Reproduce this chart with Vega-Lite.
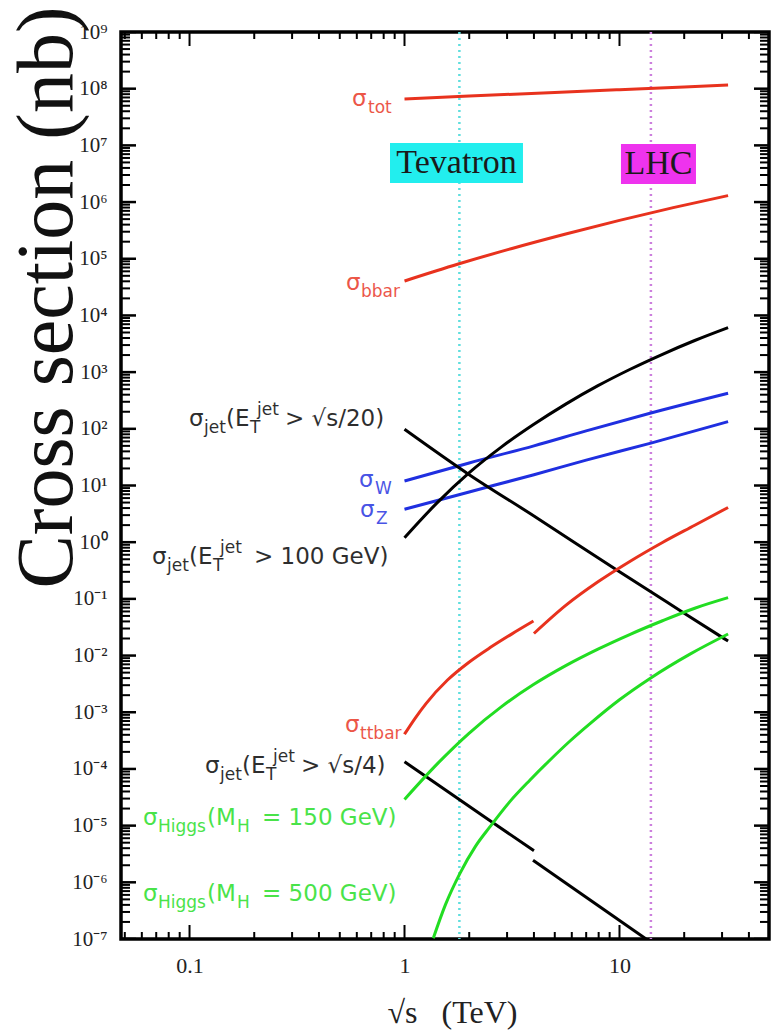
{
  "$schema": "https://vega.github.io/schema/vega-lite/v6.json",
  "autosize": {"type": "none"},
  "padding": {"left": 121, "top": 32, "right": 4, "bottom": 91},
  "width": 648,
  "height": 907,
  "background": "white",
  "config": {
    "view": {"stroke": "black", "strokeWidth": 3.5},
    "axis": {"labelFont": "Liberation Serif", "labelColor": "#222", "labelOverlap": false, "labelFlush": false, "labelBound": false,
      "ticks": false, "domain": false, "grid": false, "titleFont": "Liberation Serif", "titleFontWeight": "normal", "titleAlign": "center", "titleBaseline": "alphabetic"},
    "axisX": {"labelFontSize": 22, "labelPadding": 16, "titleFontSize": 32, "titleColor": "#222"},
    "axisY": {"labelFontSize": 21, "labelPadding": 14, "titleFontSize": 80, "titleColor": "#111", "titleAngle": 270}
  },
  "datasets": {
    "rules": [
      {"name": "Tevatron", "x": 1.8},
      {"name": "LHC", "x": 14}
    ],
    "boxes": [
      {"name": "Tevatron", "x": 0.8561, "x2": 3.557, "y": 1.1014e7, "y2": 2.169e6, "cx": 1.746, "cy": 4.888e6},
      {"name": "LHC", "x": 10.16, "x2": 22.69, "y": 1.0576e7, "y2": 2.0832e6, "cx": 15.19, "cy": 4.694e6}
    ],
    "xt": [
      {"v": 0.1, "k": "major"}, {"v": 1, "k": "major"}, {"v": 10, "k": "major"},
      {"v": 0.05, "k": "minor"}, {"v": 0.06, "k": "minor"}, {"v": 0.07, "k": "minor"}, {"v": 0.08, "k": "minor"}, {"v": 0.09, "k": "minor"},
      {"v": 0.2, "k": "minor"}, {"v": 0.3, "k": "minor"}, {"v": 0.4, "k": "minor"}, {"v": 0.5, "k": "minor"}, {"v": 0.6, "k": "minor"}, {"v": 0.7, "k": "minor"}, {"v": 0.8, "k": "minor"}, {"v": 0.9, "k": "minor"},
      {"v": 2, "k": "minor"}, {"v": 3, "k": "minor"}, {"v": 4, "k": "minor"}, {"v": 5, "k": "minor"}, {"v": 6, "k": "minor"}, {"v": 7, "k": "minor"}, {"v": 8, "k": "minor"}, {"v": 9, "k": "minor"},
      {"v": 20, "k": "minor"}, {"v": 30, "k": "minor"}, {"v": 40, "k": "minor"}
    ],
    "yt": [
      {"v": 1e-7, "k": "major"}, {"v": 1e-6, "k": "major"}, {"v": 1e-5, "k": "major"}, {"v": 1e-4, "k": "major"}, {"v": 1e-3, "k": "major"}, {"v": 1e-2, "k": "major"}, {"v": 0.1, "k": "major"}, {"v": 1, "k": "major"}, {"v": 10, "k": "major"}, {"v": 100, "k": "major"}, {"v": 1e3, "k": "major"}, {"v": 1e4, "k": "major"}, {"v": 1e5, "k": "major"}, {"v": 1e6, "k": "major"}, {"v": 1e7, "k": "major"}, {"v": 1e8, "k": "major"}, {"v": 1e9, "k": "major"},
      {"v": 2e-7, "k": "minor"}, {"v": 3e-7, "k": "minor"}, {"v": 4e-7, "k": "minor"}, {"v": 5e-7, "k": "minor"}, {"v": 6e-7, "k": "minor"}, {"v": 7e-7, "k": "minor"}, {"v": 8e-7, "k": "minor"}, {"v": 9e-7, "k": "minor"},
      {"v": 2e-6, "k": "minor"}, {"v": 3e-6, "k": "minor"}, {"v": 4e-6, "k": "minor"}, {"v": 5e-6, "k": "minor"}, {"v": 6e-6, "k": "minor"}, {"v": 7e-6, "k": "minor"}, {"v": 8e-6, "k": "minor"}, {"v": 9e-6, "k": "minor"},
      {"v": 2e-5, "k": "minor"}, {"v": 3e-5, "k": "minor"}, {"v": 4e-5, "k": "minor"}, {"v": 5e-5, "k": "minor"}, {"v": 6e-5, "k": "minor"}, {"v": 7e-5, "k": "minor"}, {"v": 8e-5, "k": "minor"}, {"v": 9e-5, "k": "minor"},
      {"v": 2e-4, "k": "minor"}, {"v": 3e-4, "k": "minor"}, {"v": 4e-4, "k": "minor"}, {"v": 5e-4, "k": "minor"}, {"v": 6e-4, "k": "minor"}, {"v": 7e-4, "k": "minor"}, {"v": 8e-4, "k": "minor"}, {"v": 9e-4, "k": "minor"},
      {"v": 2e-3, "k": "minor"}, {"v": 3e-3, "k": "minor"}, {"v": 4e-3, "k": "minor"}, {"v": 5e-3, "k": "minor"}, {"v": 6e-3, "k": "minor"}, {"v": 7e-3, "k": "minor"}, {"v": 8e-3, "k": "minor"}, {"v": 9e-3, "k": "minor"},
      {"v": 0.02, "k": "minor"}, {"v": 0.03, "k": "minor"}, {"v": 0.04, "k": "minor"}, {"v": 0.05, "k": "minor"}, {"v": 0.06, "k": "minor"}, {"v": 0.07, "k": "minor"}, {"v": 0.08, "k": "minor"}, {"v": 0.09, "k": "minor"},
      {"v": 0.2, "k": "minor"}, {"v": 0.3, "k": "minor"}, {"v": 0.4, "k": "minor"}, {"v": 0.5, "k": "minor"}, {"v": 0.6, "k": "minor"}, {"v": 0.7, "k": "minor"}, {"v": 0.8, "k": "minor"}, {"v": 0.9, "k": "minor"},
      {"v": 2, "k": "minor"}, {"v": 3, "k": "minor"}, {"v": 4, "k": "minor"}, {"v": 5, "k": "minor"}, {"v": 6, "k": "minor"}, {"v": 7, "k": "minor"}, {"v": 8, "k": "minor"}, {"v": 9, "k": "minor"},
      {"v": 20, "k": "minor"}, {"v": 30, "k": "minor"}, {"v": 40, "k": "minor"}, {"v": 50, "k": "minor"}, {"v": 60, "k": "minor"}, {"v": 70, "k": "minor"}, {"v": 80, "k": "minor"}, {"v": 90, "k": "minor"},
      {"v": 200, "k": "minor"}, {"v": 300, "k": "minor"}, {"v": 400, "k": "minor"}, {"v": 500, "k": "minor"}, {"v": 600, "k": "minor"}, {"v": 700, "k": "minor"}, {"v": 800, "k": "minor"}, {"v": 900, "k": "minor"},
      {"v": 2e3, "k": "minor"}, {"v": 3e3, "k": "minor"}, {"v": 4e3, "k": "minor"}, {"v": 5e3, "k": "minor"}, {"v": 6e3, "k": "minor"}, {"v": 7e3, "k": "minor"}, {"v": 8e3, "k": "minor"}, {"v": 9e3, "k": "minor"},
      {"v": 2e4, "k": "minor"}, {"v": 3e4, "k": "minor"}, {"v": 4e4, "k": "minor"}, {"v": 5e4, "k": "minor"}, {"v": 6e4, "k": "minor"}, {"v": 7e4, "k": "minor"}, {"v": 8e4, "k": "minor"}, {"v": 9e4, "k": "minor"},
      {"v": 2e5, "k": "minor"}, {"v": 3e5, "k": "minor"}, {"v": 4e5, "k": "minor"}, {"v": 5e5, "k": "minor"}, {"v": 6e5, "k": "minor"}, {"v": 7e5, "k": "minor"}, {"v": 8e5, "k": "minor"}, {"v": 9e5, "k": "minor"},
      {"v": 2e6, "k": "minor"}, {"v": 3e6, "k": "minor"}, {"v": 4e6, "k": "minor"}, {"v": 5e6, "k": "minor"}, {"v": 6e6, "k": "minor"}, {"v": 7e6, "k": "minor"}, {"v": 8e6, "k": "minor"}, {"v": 9e6, "k": "minor"},
      {"v": 2e7, "k": "minor"}, {"v": 3e7, "k": "minor"}, {"v": 4e7, "k": "minor"}, {"v": 5e7, "k": "minor"}, {"v": 6e7, "k": "minor"}, {"v": 7e7, "k": "minor"}, {"v": 8e7, "k": "minor"}, {"v": 9e7, "k": "minor"},
      {"v": 2e8, "k": "minor"}, {"v": 3e8, "k": "minor"}, {"v": 4e8, "k": "minor"}, {"v": 5e8, "k": "minor"}, {"v": 6e8, "k": "minor"}, {"v": 7e8, "k": "minor"}, {"v": 8e8, "k": "minor"}, {"v": 9e8, "k": "minor"}
    ],
    "curves": [
      {"series": "tot", "seg": "tot", "x": 1, "y": 6.6e7},
      {"series": "tot", "seg": "tot", "x": 2, "y": 7.4e7},
      {"series": "tot", "seg": "tot", "x": 5, "y": 8.6e7},
      {"series": "tot", "seg": "tot", "x": 10, "y": 9.6e7},
      {"series": "tot", "seg": "tot", "x": 20, "y": 1.07e8},
      {"series": "tot", "seg": "tot", "x": 32, "y": 1.16e8},
      {"series": "bbar", "seg": "bbar", "x": 1, "y": 4.05e4},
      {"series": "bbar", "seg": "bbar", "x": 1.778, "y": 8.07e4},
      {"series": "bbar", "seg": "bbar", "x": 3.162, "y": 1.52e5},
      {"series": "bbar", "seg": "bbar", "x": 5.623, "y": 2.735e5},
      {"series": "bbar", "seg": "bbar", "x": 10, "y": 4.75e5},
      {"series": "bbar", "seg": "bbar", "x": 17.78, "y": 7.98e5},
      {"series": "bbar", "seg": "bbar", "x": 32, "y": 1.30e6},
      {"series": "W", "seg": "W", "x": 1, "y": 12},
      {"series": "W", "seg": "W", "x": 2, "y": 25},
      {"series": "W", "seg": "W", "x": 4, "y": 50},
      {"series": "W", "seg": "W", "x": 7, "y": 92},
      {"series": "W", "seg": "W", "x": 14, "y": 190},
      {"series": "W", "seg": "W", "x": 32, "y": 424},
      {"series": "Z", "seg": "Z", "x": 1, "y": 3.8},
      {"series": "Z", "seg": "Z", "x": 2, "y": 7.7},
      {"series": "Z", "seg": "Z", "x": 4, "y": 15.5},
      {"series": "Z", "seg": "Z", "x": 7, "y": 28},
      {"series": "Z", "seg": "Z", "x": 14, "y": 56},
      {"series": "Z", "seg": "Z", "x": 32, "y": 134},
      {"series": "jet20", "seg": "jet20", "x": 1, "y": 98},
      {"series": "jet20", "seg": "jet20", "x": 2, "y": 15.5},
      {"series": "jet20", "seg": "jet20", "x": 4, "y": 2.9},
      {"series": "jet20", "seg": "jet20", "x": 10, "y": 0.30},
      {"series": "jet20", "seg": "jet20", "x": 20, "y": 0.056},
      {"series": "jet20", "seg": "jet20", "x": 32, "y": 0.018},
      {"series": "jet100", "seg": "jet100", "x": 1, "y": 1.2},
      {"series": "jet100", "seg": "jet100", "x": 1.413, "y": 4.89},
      {"series": "jet100", "seg": "jet100", "x": 1.995, "y": 16.7},
      {"series": "jet100", "seg": "jet100", "x": 2.818, "y": 47.6},
      {"series": "jet100", "seg": "jet100", "x": 3.981, "y": 118.9},
      {"series": "jet100", "seg": "jet100", "x": 5.623, "y": 272.9},
      {"series": "jet100", "seg": "jet100", "x": 7.943, "y": 576.8},
      {"series": "jet100", "seg": "jet100", "x": 11.22, "y": 1125},
      {"series": "jet100", "seg": "jet100", "x": 15.85, "y": 2065},
      {"series": "jet100", "seg": "jet100", "x": 22.39, "y": 3614},
      {"series": "jet100", "seg": "jet100", "x": 32, "y": 6100},
      {"series": "jet4", "seg": "jet4a", "x": 1, "y": 1.34e-4},
      {"series": "jet4", "seg": "jet4a", "x": 2.6, "y": 1.1e-5},
      {"series": "jet4", "seg": "jet4a", "x": 4, "y": 3.6e-6},
      {"series": "jet4", "seg": "jet4b", "x": 3.96, "y": 2.45e-6},
      {"series": "jet4", "seg": "jet4b", "x": 13.3, "y": 1e-7},
      {"series": "ttbar", "seg": "ttbar1", "x": 1, "y": 4.1e-4},
      {"series": "ttbar", "seg": "ttbar1", "x": 1.122, "y": 7.9e-4},
      {"series": "ttbar", "seg": "ttbar1", "x": 1.259, "y": 1.42e-3},
      {"series": "ttbar", "seg": "ttbar1", "x": 1.585, "y": 3.70e-3},
      {"series": "ttbar", "seg": "ttbar1", "x": 1.995, "y": 7.64e-3},
      {"series": "ttbar", "seg": "ttbar1", "x": 2.512, "y": 0.01396},
      {"series": "ttbar", "seg": "ttbar1", "x": 3.162, "y": 0.02415},
      {"series": "ttbar", "seg": "ttbar1", "x": 3.98, "y": 0.0406},
      {"series": "ttbar", "seg": "ttbar2", "x": 4, "y": 0.0245},
      {"series": "ttbar", "seg": "ttbar2", "x": 5.623, "y": 0.0767},
      {"series": "ttbar", "seg": "ttbar2", "x": 7.943, "y": 0.2},
      {"series": "ttbar", "seg": "ttbar2", "x": 11.22, "y": 0.462},
      {"series": "ttbar", "seg": "ttbar2", "x": 15.85, "y": 0.989},
      {"series": "ttbar", "seg": "ttbar2", "x": 22.39, "y": 1.99},
      {"series": "ttbar", "seg": "ttbar2", "x": 32, "y": 4.1},
      {"series": "h150", "seg": "h150", "x": 1, "y": 2.9e-5},
      {"series": "h150", "seg": "h150", "x": 1.413, "y": 1.205e-4},
      {"series": "h150", "seg": "h150", "x": 1.995, "y": 4.256e-4},
      {"series": "h150", "seg": "h150", "x": 2.818, "y": 1.242e-3},
      {"series": "h150", "seg": "h150", "x": 3.981, "y": 3.076e-3},
      {"series": "h150", "seg": "h150", "x": 5.623, "y": 6.637e-3},
      {"series": "h150", "seg": "h150", "x": 7.943, "y": 0.01297},
      {"series": "h150", "seg": "h150", "x": 11.22, "y": 0.02371},
      {"series": "h150", "seg": "h150", "x": 15.85, "y": 0.04111},
      {"series": "h150", "seg": "h150", "x": 22.39, "y": 0.06839},
      {"series": "h150", "seg": "h150", "x": 32, "y": 0.105},
      {"series": "h500", "seg": "h500", "x": 1.361, "y": 1.03e-7},
      {"series": "h500", "seg": "h500", "x": 1.549, "y": 3.99e-7},
      {"series": "h500", "seg": "h500", "x": 1.811, "y": 1.44e-6},
      {"series": "h500", "seg": "h500", "x": 2.138, "y": 4.31e-6},
      {"series": "h500", "seg": "h500", "x": 2.5, "y": 9.59e-6},
      {"series": "h500", "seg": "h500", "x": 3.09, "y": 2.65e-5},
      {"series": "h500", "seg": "h500", "x": 3.837, "y": 6.38e-5},
      {"series": "h500", "seg": "h500", "x": 4.753, "y": 1.44e-4},
      {"series": "h500", "seg": "h500", "x": 5.888, "y": 3.11e-4},
      {"series": "h500", "seg": "h500", "x": 7.295, "y": 6.3e-4},
      {"series": "h500", "seg": "h500", "x": 10, "y": 1.66e-3},
      {"series": "h500", "seg": "h500", "x": 13.87, "y": 3.95e-3},
      {"series": "h500", "seg": "h500", "x": 21.28, "y": 0.0106},
      {"series": "h500", "seg": "h500", "x": 32, "y": 0.024}
    ],
    "labels": [
      {"series": "tot", "role": "main", "text": "σ", "x": 0.5698, "y": 4.95e7},
      {"series": "tot", "role": "sub", "text": "tot", "x": 0.6764, "y": 4.95e7},
      {"series": "bbar", "role": "main", "text": "σ", "x": 0.5344, "y": 2.81e4},
      {"series": "bbar", "role": "sub", "text": "bbar", "x": 0.6277, "y": 2.81e4},
      {"series": "W", "role": "main", "text": "σ", "x": 0.6144, "y": 9.41},
      {"series": "W", "role": "sub", "text": "W", "x": 0.7293, "y": 9.41},
      {"series": "Z", "role": "main", "text": "σ", "x": 0.6209, "y": 2.78},
      {"series": "Z", "role": "sub", "text": "Z", "x": 0.737, "y": 2.78},
      {"series": "ttbar", "role": "main", "text": "σ", "x": 0.5288, "y": 4.48e-4},
      {"series": "ttbar", "role": "sub", "text": "ttbar", "x": 0.6209, "y": 4.48e-4},
      {"series": "jet20", "role": "main", "text": "σ", "x": 0.09947, "y": 112.1},
      {"series": "jet20", "role": "sub", "text": "jet", "x": 0.1168, "y": 112.1},
      {"series": "jet20", "role": "main", "text": "(E", "x": 0.1479, "y": 112.1},
      {"series": "jet20", "role": "sub", "text": "T", "x": 0.1911, "y": 112.1},
      {"series": "jet20", "role": "sup", "text": "jet", "x": 0.2061, "y": 112.1},
      {"series": "jet20", "role": "main", "text": "> √s/20)", "x": 0.2781, "y": 112.1},
      {"series": "jet100", "role": "main", "text": "σ", "x": 0.06691, "y": 0.4123},
      {"series": "jet100", "role": "sub", "text": "jet", "x": 0.07858, "y": 0.4123},
      {"series": "jet100", "role": "main", "text": "(E", "x": 0.09947, "y": 0.4123},
      {"series": "jet100", "role": "sub", "text": "T", "x": 0.1286, "y": 0.4123},
      {"series": "jet100", "role": "sup", "text": "jet", "x": 0.1387, "y": 0.4123},
      {"series": "jet100", "role": "main", "text": "> 100 GeV)", "x": 0.1995, "y": 0.4123},
      {"series": "jet4", "role": "main", "text": "σ", "x": 0.1181, "y": 8.478e-5},
      {"series": "jet4", "role": "sub", "text": "jet", "x": 0.1387, "y": 8.478e-5},
      {"series": "jet4", "role": "main", "text": "(E", "x": 0.1755, "y": 8.478e-5},
      {"series": "jet4", "role": "sub", "text": "T", "x": 0.2269, "y": 8.478e-5},
      {"series": "jet4", "role": "sup", "text": "jet", "x": 0.2446, "y": 8.478e-5},
      {"series": "jet4", "role": "main", "text": "> √s/4)", "x": 0.33, "y": 8.478e-5},
      {"series": "h150", "role": "main", "text": "σ", "x": 0.06076, "y": 1.026e-5},
      {"series": "h150", "role": "sub", "text": "Higgs", "x": 0.07137, "y": 1.026e-5},
      {"series": "h150", "role": "main", "text": "(M", "x": 0.1206, "y": 1.026e-5},
      {"series": "h150", "role": "sub", "text": "H", "x": 0.1663, "y": 1.026e-5},
      {"series": "h150", "role": "main", "text": "= 150 GeV)", "x": 0.2174, "y": 1.026e-5},
      {"series": "h500", "role": "main", "text": "σ", "x": 0.06076, "y": 4.68e-7},
      {"series": "h500", "role": "sub", "text": "Higgs", "x": 0.07137, "y": 4.68e-7},
      {"series": "h500", "role": "main", "text": "(M", "x": 0.1206, "y": 4.68e-7},
      {"series": "h500", "role": "sub", "text": "H", "x": 0.1663, "y": 4.68e-7},
      {"series": "h500", "role": "main", "text": "= 500 GeV)", "x": 0.2174, "y": 4.68e-7}
    ]
  },
  "layer": [
    {
      "data": {"name": "rules"},
      "mark": {"type": "rule", "strokeDash": [2, 4], "strokeWidth": 2.5},
      "encoding": {
        "x": {"field": "x", "type": "quantitative", "scale": {"type": "log", "domain": [0.048, 49.6], "nice": false},
          "axis": {"values": [0.1, 1, 10], "labelExpr": "datum.value == 0.1 ? '0.1' : datum.value == 1 ? '1' : datum.value == 10 ? '10' : ''", "title": "√s\u00a0\u00a0\u00a0(TeV)", "titleX": 331, "titleY": 83}},
        "stroke": {"field": "name", "type": "nominal", "scale": {"domain": ["Tevatron", "LHC"], "range": ["#5fdede", "#cc7fdd"]}, "legend": null}
      }
    },
    {
      "data": {"name": "boxes"},
      "mark": {"type": "rect"},
      "encoding": {
        "x": {"field": "x", "type": "quantitative", "scale": {"type": "log", "domain": [0.048, 49.6], "nice": false},
          "axis": {"values": [0.1, 1, 10], "labelExpr": "datum.value == 0.1 ? '0.1' : datum.value == 1 ? '1' : datum.value == 10 ? '10' : ''", "title": "√s\u00a0\u00a0\u00a0(TeV)", "titleX": 331, "titleY": 83}},
        "x2": {"field": "x2"},
        "y": {"field": "y", "type": "quantitative", "scale": {"type": "log", "domain": [1e-7, 1e9], "nice": false},
          "axis": {"values": [1e-7,1e-6,1e-5,1e-4,0.001,0.01,0.1,1,10,100,1000,1e4,1e5,1e6,1e7,1e8,1e9], "labelExpr": "'10'+(datum.value<1?'⁻':'')+['⁰','¹','²','³','⁴','⁵','⁶','⁷','⁸','⁹'][abs(round(log(datum.value)/LN10))]", "title": "Cross section (nb)", "titleX": -50, "titleY": 265}},
        "y2": {"field": "y2"},
        "fill": {"field": "name", "type": "nominal", "scale": {"domain": ["Tevatron", "LHC"], "range": ["#22eeee", "#ee33ee"]}, "legend": null}
      }
    },
    {
      "data": {"name": "boxes"},
      "mark": {"type": "text", "font": "Liberation Serif", "fontSize": 34, "align": "center", "baseline": "middle", "color": "#1a1a1a"},
      "encoding": {
        "x": {"field": "cx", "type": "quantitative", "scale": {"type": "log", "domain": [0.048, 49.6], "nice": false},
          "axis": {"values": [0.1, 1, 10], "labelExpr": "datum.value == 0.1 ? '0.1' : datum.value == 1 ? '1' : datum.value == 10 ? '10' : ''", "title": "√s\u00a0\u00a0\u00a0(TeV)", "titleX": 331, "titleY": 83}},
        "y": {"field": "cy", "type": "quantitative", "scale": {"type": "log", "domain": [1e-7, 1e9], "nice": false},
          "axis": {"values": [1e-7,1e-6,1e-5,1e-4,0.001,0.01,0.1,1,10,100,1000,1e4,1e5,1e6,1e7,1e8,1e9], "labelExpr": "'10'+(datum.value<1?'⁻':'')+['⁰','¹','²','³','⁴','⁵','⁶','⁷','⁸','⁹'][abs(round(log(datum.value)/LN10))]", "title": "Cross section (nb)", "titleX": -50, "titleY": 265}},
        "text": {"field": "name"}
      }
    },
    {
      "data": {"name": "curves"},
      "mark": {"type": "line", "strokeWidth": 3, "clip": true, "interpolate": "monotone"},
      "encoding": {
        "x": {"field": "x", "type": "quantitative", "scale": {"type": "log", "domain": [0.048, 49.6], "nice": false},
          "axis": {"values": [0.1, 1, 10], "labelExpr": "datum.value == 0.1 ? '0.1' : datum.value == 1 ? '1' : datum.value == 10 ? '10' : ''", "title": "√s\u00a0\u00a0\u00a0(TeV)", "titleX": 331, "titleY": 83}},
        "y": {"field": "y", "type": "quantitative", "scale": {"type": "log", "domain": [1e-7, 1e9], "nice": false},
          "axis": {"values": [1e-7,1e-6,1e-5,1e-4,0.001,0.01,0.1,1,10,100,1000,1e4,1e5,1e6,1e7,1e8,1e9], "labelExpr": "'10'+(datum.value<1?'⁻':'')+['⁰','¹','²','³','⁴','⁵','⁶','⁷','⁸','⁹'][abs(round(log(datum.value)/LN10))]", "title": "Cross section (nb)", "titleX": -50, "titleY": 265}},
        "color": {"field": "series", "type": "nominal",
          "scale": {"domain": ["tot", "bbar", "ttbar", "W", "Z", "jet20", "jet100", "jet4", "h150", "h500"],
            "range": ["#e8321e", "#e8321e", "#e8321e", "#1f2fe0", "#1f2fe0", "#000000", "#000000", "#000000", "#22dd22", "#22dd22"]},
          "legend": null},
        "detail": {"field": "seg"}
      }
    },
    {
      "data": {"name": "labels"},
      "transform": [{"filter": "datum.role == 'main'"}],
      "mark": {"type": "text", "font": "DejaVu Sans", "fontSize": 23, "align": "left", "baseline": "alphabetic", "opacity": 0.82},
      "encoding": {
        "x": {"field": "x", "type": "quantitative", "scale": {"type": "log", "domain": [0.048, 49.6], "nice": false},
          "axis": {"values": [0.1, 1, 10], "labelExpr": "datum.value == 0.1 ? '0.1' : datum.value == 1 ? '1' : datum.value == 10 ? '10' : ''", "title": "√s\u00a0\u00a0\u00a0(TeV)", "titleX": 331, "titleY": 83}},
        "y": {"field": "y", "type": "quantitative", "scale": {"type": "log", "domain": [1e-7, 1e9], "nice": false},
          "axis": {"values": [1e-7,1e-6,1e-5,1e-4,0.001,0.01,0.1,1,10,100,1000,1e4,1e5,1e6,1e7,1e8,1e9], "labelExpr": "'10'+(datum.value<1?'⁻':'')+['⁰','¹','²','³','⁴','⁵','⁶','⁷','⁸','⁹'][abs(round(log(datum.value)/LN10))]", "title": "Cross section (nb)", "titleX": -50, "titleY": 265}},
        "text": {"field": "text"},
        "color": {"field": "series", "type": "nominal", "legend": null}
      }
    },
    {
      "data": {"name": "labels"},
      "transform": [{"filter": "datum.role == 'sub'"}],
      "mark": {"type": "text", "font": "DejaVu Sans", "fontSize": 17, "align": "left", "baseline": "alphabetic", "dy": 7, "opacity": 0.82},
      "encoding": {
        "x": {"field": "x", "type": "quantitative", "scale": {"type": "log", "domain": [0.048, 49.6], "nice": false},
          "axis": {"values": [0.1, 1, 10], "labelExpr": "datum.value == 0.1 ? '0.1' : datum.value == 1 ? '1' : datum.value == 10 ? '10' : ''", "title": "√s\u00a0\u00a0\u00a0(TeV)", "titleX": 331, "titleY": 83}},
        "y": {"field": "y", "type": "quantitative", "scale": {"type": "log", "domain": [1e-7, 1e9], "nice": false},
          "axis": {"values": [1e-7,1e-6,1e-5,1e-4,0.001,0.01,0.1,1,10,100,1000,1e4,1e5,1e6,1e7,1e8,1e9], "labelExpr": "'10'+(datum.value<1?'⁻':'')+['⁰','¹','²','³','⁴','⁵','⁶','⁷','⁸','⁹'][abs(round(log(datum.value)/LN10))]", "title": "Cross section (nb)", "titleX": -50, "titleY": 265}},
        "text": {"field": "text"},
        "color": {"field": "series", "type": "nominal", "legend": null}
      }
    },
    {
      "data": {"name": "labels"},
      "transform": [{"filter": "datum.role == 'sup'"}],
      "mark": {"type": "text", "font": "DejaVu Sans", "fontSize": 17, "align": "left", "baseline": "alphabetic", "dy": -11, "opacity": 0.82},
      "encoding": {
        "x": {"field": "x", "type": "quantitative", "scale": {"type": "log", "domain": [0.048, 49.6], "nice": false},
          "axis": {"values": [0.1, 1, 10], "labelExpr": "datum.value == 0.1 ? '0.1' : datum.value == 1 ? '1' : datum.value == 10 ? '10' : ''", "title": "√s\u00a0\u00a0\u00a0(TeV)", "titleX": 331, "titleY": 83}},
        "y": {"field": "y", "type": "quantitative", "scale": {"type": "log", "domain": [1e-7, 1e9], "nice": false},
          "axis": {"values": [1e-7,1e-6,1e-5,1e-4,0.001,0.01,0.1,1,10,100,1000,1e4,1e5,1e6,1e7,1e8,1e9], "labelExpr": "'10'+(datum.value<1?'⁻':'')+['⁰','¹','²','³','⁴','⁵','⁶','⁷','⁸','⁹'][abs(round(log(datum.value)/LN10))]", "title": "Cross section (nb)", "titleX": -50, "titleY": 265}},
        "text": {"field": "text"},
        "color": {"field": "series", "type": "nominal", "legend": null}
      }
    },
    {
      "data": {"name": "yt"},
      "transform": [{"filter": "datum.k == 'major'"}],
      "mark": {"type": "tick", "orient": "horizontal", "size": 30, "thickness": 2.5, "color": "black", "opacity": 1, "clip": true},
      "encoding": {
        "x": {"datum": 0.048, "type": "quantitative", "scale": {"type": "log", "domain": [0.048, 49.6], "nice": false},
          "axis": {"values": [0.1, 1, 10], "labelExpr": "datum.value == 0.1 ? '0.1' : datum.value == 1 ? '1' : datum.value == 10 ? '10' : ''", "title": "√s\u00a0\u00a0\u00a0(TeV)", "titleX": 331, "titleY": 83}},
        "y": {"field": "v", "type": "quantitative", "scale": {"type": "log", "domain": [1e-7, 1e9], "nice": false},
          "axis": {"values": [1e-7,1e-6,1e-5,1e-4,0.001,0.01,0.1,1,10,100,1000,1e4,1e5,1e6,1e7,1e8,1e9], "labelExpr": "'10'+(datum.value<1?'⁻':'')+['⁰','¹','²','³','⁴','⁵','⁶','⁷','⁸','⁹'][abs(round(log(datum.value)/LN10))]", "title": "Cross section (nb)", "titleX": -50, "titleY": 265}}
      }
    },
    {
      "data": {"name": "yt"},
      "transform": [{"filter": "datum.k == 'minor'"}],
      "mark": {"type": "tick", "orient": "horizontal", "size": 18, "thickness": 2, "color": "black", "opacity": 1, "clip": true},
      "encoding": {
        "x": {"datum": 0.048, "type": "quantitative", "scale": {"type": "log", "domain": [0.048, 49.6], "nice": false},
          "axis": {"values": [0.1, 1, 10], "labelExpr": "datum.value == 0.1 ? '0.1' : datum.value == 1 ? '1' : datum.value == 10 ? '10' : ''", "title": "√s\u00a0\u00a0\u00a0(TeV)", "titleX": 331, "titleY": 83}},
        "y": {"field": "v", "type": "quantitative", "scale": {"type": "log", "domain": [1e-7, 1e9], "nice": false},
          "axis": {"values": [1e-7,1e-6,1e-5,1e-4,0.001,0.01,0.1,1,10,100,1000,1e4,1e5,1e6,1e7,1e8,1e9], "labelExpr": "'10'+(datum.value<1?'⁻':'')+['⁰','¹','²','³','⁴','⁵','⁶','⁷','⁸','⁹'][abs(round(log(datum.value)/LN10))]", "title": "Cross section (nb)", "titleX": -50, "titleY": 265}}
      }
    },
    {
      "data": {"name": "yt"},
      "transform": [{"filter": "datum.k == 'major'"}],
      "mark": {"type": "tick", "orient": "horizontal", "size": 30, "thickness": 2.5, "color": "black", "opacity": 1, "clip": true},
      "encoding": {
        "x": {"datum": 49.6, "type": "quantitative", "scale": {"type": "log", "domain": [0.048, 49.6], "nice": false},
          "axis": {"values": [0.1, 1, 10], "labelExpr": "datum.value == 0.1 ? '0.1' : datum.value == 1 ? '1' : datum.value == 10 ? '10' : ''", "title": "√s\u00a0\u00a0\u00a0(TeV)", "titleX": 331, "titleY": 83}},
        "y": {"field": "v", "type": "quantitative", "scale": {"type": "log", "domain": [1e-7, 1e9], "nice": false},
          "axis": {"values": [1e-7,1e-6,1e-5,1e-4,0.001,0.01,0.1,1,10,100,1000,1e4,1e5,1e6,1e7,1e8,1e9], "labelExpr": "'10'+(datum.value<1?'⁻':'')+['⁰','¹','²','³','⁴','⁵','⁶','⁷','⁸','⁹'][abs(round(log(datum.value)/LN10))]", "title": "Cross section (nb)", "titleX": -50, "titleY": 265}}
      }
    },
    {
      "data": {"name": "yt"},
      "transform": [{"filter": "datum.k == 'minor'"}],
      "mark": {"type": "tick", "orient": "horizontal", "size": 18, "thickness": 2, "color": "black", "opacity": 1, "clip": true},
      "encoding": {
        "x": {"datum": 49.6, "type": "quantitative", "scale": {"type": "log", "domain": [0.048, 49.6], "nice": false},
          "axis": {"values": [0.1, 1, 10], "labelExpr": "datum.value == 0.1 ? '0.1' : datum.value == 1 ? '1' : datum.value == 10 ? '10' : ''", "title": "√s\u00a0\u00a0\u00a0(TeV)", "titleX": 331, "titleY": 83}},
        "y": {"field": "v", "type": "quantitative", "scale": {"type": "log", "domain": [1e-7, 1e9], "nice": false},
          "axis": {"values": [1e-7,1e-6,1e-5,1e-4,0.001,0.01,0.1,1,10,100,1000,1e4,1e5,1e6,1e7,1e8,1e9], "labelExpr": "'10'+(datum.value<1?'⁻':'')+['⁰','¹','²','³','⁴','⁵','⁶','⁷','⁸','⁹'][abs(round(log(datum.value)/LN10))]", "title": "Cross section (nb)", "titleX": -50, "titleY": 265}}
      }
    },
    {
      "data": {"name": "xt"},
      "transform": [{"filter": "datum.k == 'major'"}],
      "mark": {"type": "tick", "orient": "vertical", "size": 28, "thickness": 2, "color": "black", "opacity": 1, "clip": true},
      "encoding": {
        "x": {"field": "v", "type": "quantitative", "scale": {"type": "log", "domain": [0.048, 49.6], "nice": false},
          "axis": {"values": [0.1, 1, 10], "labelExpr": "datum.value == 0.1 ? '0.1' : datum.value == 1 ? '1' : datum.value == 10 ? '10' : ''", "title": "√s\u00a0\u00a0\u00a0(TeV)", "titleX": 331, "titleY": 83}},
        "y": {"datum": 1e-7, "type": "quantitative", "scale": {"type": "log", "domain": [1e-7, 1e9], "nice": false},
          "axis": {"values": [1e-7,1e-6,1e-5,1e-4,0.001,0.01,0.1,1,10,100,1000,1e4,1e5,1e6,1e7,1e8,1e9], "labelExpr": "'10'+(datum.value<1?'⁻':'')+['⁰','¹','²','³','⁴','⁵','⁶','⁷','⁸','⁹'][abs(round(log(datum.value)/LN10))]", "title": "Cross section (nb)", "titleX": -50, "titleY": 265}}
      }
    },
    {
      "data": {"name": "xt"},
      "transform": [{"filter": "datum.k == 'minor'"}],
      "mark": {"type": "tick", "orient": "vertical", "size": 14, "thickness": 2, "color": "black", "opacity": 1, "clip": true},
      "encoding": {
        "x": {"field": "v", "type": "quantitative", "scale": {"type": "log", "domain": [0.048, 49.6], "nice": false},
          "axis": {"values": [0.1, 1, 10], "labelExpr": "datum.value == 0.1 ? '0.1' : datum.value == 1 ? '1' : datum.value == 10 ? '10' : ''", "title": "√s\u00a0\u00a0\u00a0(TeV)", "titleX": 331, "titleY": 83}},
        "y": {"datum": 1e-7, "type": "quantitative", "scale": {"type": "log", "domain": [1e-7, 1e9], "nice": false},
          "axis": {"values": [1e-7,1e-6,1e-5,1e-4,0.001,0.01,0.1,1,10,100,1000,1e4,1e5,1e6,1e7,1e8,1e9], "labelExpr": "'10'+(datum.value<1?'⁻':'')+['⁰','¹','²','³','⁴','⁵','⁶','⁷','⁸','⁹'][abs(round(log(datum.value)/LN10))]", "title": "Cross section (nb)", "titleX": -50, "titleY": 265}}
      }
    },
    {
      "data": {"name": "xt"},
      "transform": [{"filter": "datum.k == 'major'"}],
      "mark": {"type": "tick", "orient": "vertical", "size": 28, "thickness": 2, "color": "black", "opacity": 1, "clip": true},
      "encoding": {
        "x": {"field": "v", "type": "quantitative", "scale": {"type": "log", "domain": [0.048, 49.6], "nice": false},
          "axis": {"values": [0.1, 1, 10], "labelExpr": "datum.value == 0.1 ? '0.1' : datum.value == 1 ? '1' : datum.value == 10 ? '10' : ''", "title": "√s\u00a0\u00a0\u00a0(TeV)", "titleX": 331, "titleY": 83}},
        "y": {"datum": 1e9, "type": "quantitative", "scale": {"type": "log", "domain": [1e-7, 1e9], "nice": false},
          "axis": {"values": [1e-7,1e-6,1e-5,1e-4,0.001,0.01,0.1,1,10,100,1000,1e4,1e5,1e6,1e7,1e8,1e9], "labelExpr": "'10'+(datum.value<1?'⁻':'')+['⁰','¹','²','³','⁴','⁵','⁶','⁷','⁸','⁹'][abs(round(log(datum.value)/LN10))]", "title": "Cross section (nb)", "titleX": -50, "titleY": 265}}
      }
    },
    {
      "data": {"name": "xt"},
      "transform": [{"filter": "datum.k == 'minor'"}],
      "mark": {"type": "tick", "orient": "vertical", "size": 14, "thickness": 2, "color": "black", "opacity": 1, "clip": true},
      "encoding": {
        "x": {"field": "v", "type": "quantitative", "scale": {"type": "log", "domain": [0.048, 49.6], "nice": false},
          "axis": {"values": [0.1, 1, 10], "labelExpr": "datum.value == 0.1 ? '0.1' : datum.value == 1 ? '1' : datum.value == 10 ? '10' : ''", "title": "√s\u00a0\u00a0\u00a0(TeV)", "titleX": 331, "titleY": 83}},
        "y": {"datum": 1e9, "type": "quantitative", "scale": {"type": "log", "domain": [1e-7, 1e9], "nice": false},
          "axis": {"values": [1e-7,1e-6,1e-5,1e-4,0.001,0.01,0.1,1,10,100,1000,1e4,1e5,1e6,1e7,1e8,1e9], "labelExpr": "'10'+(datum.value<1?'⁻':'')+['⁰','¹','²','³','⁴','⁵','⁶','⁷','⁸','⁹'][abs(round(log(datum.value)/LN10))]", "title": "Cross section (nb)", "titleX": -50, "titleY": 265}}
      }
    }
  ]
}
